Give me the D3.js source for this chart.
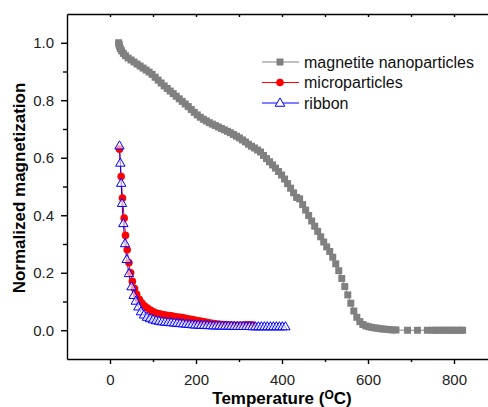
<!DOCTYPE html>
<html>
<head>
<meta charset="utf-8">
<script src="https://cdn.jsdelivr.net/npm/d3@7"></script>
<style>
  body { margin: 0; background: #fff; }
  svg { display: block; font-family: Arial, "Liberation Sans", sans-serif; }
</style>
</head>
<body>
<div id="chart"></div>
<script>
// magnetite nanoparticles (gray squares)
const nanoT = [20, 21, 22, 24, 27, 31, 36, 42, 49, 56, 63, 70, 77, 84, 91, 98, 105, 112, 119, 126,
  133, 140, 147, 154, 161, 168, 175, 182, 189, 196, 203, 210, 217, 224, 231, 238, 245, 252, 259, 266,
  273, 280, 287, 294, 301, 308, 315, 322, 329, 336, 343, 350, 357, 364, 371, 378, 385, 392, 399, 406,
  413, 420, 427, 434, 441, 448, 455, 462, 469, 476, 483, 490, 497, 504, 511, 518, 525, 532, 539, 546,
  553, 560, 567, 574, 581, 588, 595, 602, 609, 616, 623, 630, 637, 644, 651, 658, 665, 692, 715, 738,
  750, 758, 766, 774, 782, 790, 798, 806, 814, 820];
const nanoM = [1.000, 0.995, 0.988, 0.980, 0.972, 0.963, 0.955, 0.947, 0.940, 0.933, 0.926, 0.919, 0.912, 0.905, 0.898, 0.890, 0.880, 0.870, 0.860, 0.850,
  0.841, 0.832, 0.823, 0.814, 0.805, 0.796, 0.787, 0.778, 0.768, 0.758, 0.749, 0.741, 0.734, 0.728, 0.722, 0.717, 0.712, 0.707, 0.702, 0.697,
  0.692, 0.687, 0.681, 0.675, 0.669, 0.662, 0.655, 0.647, 0.640, 0.634, 0.627, 0.620, 0.608, 0.597, 0.586, 0.575, 0.564, 0.552, 0.540, 0.526,
  0.510, 0.494, 0.478, 0.462, 0.457, 0.437, 0.418, 0.399, 0.380, 0.362, 0.344, 0.325, 0.307, 0.290, 0.274, 0.254, 0.231, 0.207, 0.180, 0.152,
  0.123, 0.094, 0.067, 0.045, 0.030, 0.020, 0.015, 0.012, 0.010, 0.008, 0.007, 0.005, 0.004, 0.003, 0.002, 0.001, 0.001, 0.000, 0.000, 0.000,
  0.000, 0.000, 0.000, 0.000, 0.000, 0.000, 0.000, 0.000, 0.000, 0.000];

// microparticles (red circles)
const microT = [22, 26, 29, 33, 36, 40, 44, 48, 52, 57, 62, 68, 74, 80, 87, 94, 101, 108, 115, 122,
  129, 136, 143, 150, 157, 164, 171, 178, 185, 192, 199, 206, 213, 220, 227, 234, 241, 248, 255, 262,
  269, 276, 283, 290, 297, 304, 311, 318, 325, 332];
const microM = [0.630, 0.535, 0.460, 0.390, 0.330, 0.280, 0.235, 0.200, 0.170, 0.145, 0.125, 0.108, 0.095, 0.085, 0.077, 0.070, 0.064, 0.060, 0.057, 0.055,
  0.053, 0.051, 0.050, 0.048, 0.046, 0.045, 0.043, 0.041, 0.039, 0.037, 0.035, 0.033, 0.031, 0.029, 0.027, 0.025, 0.023, 0.022, 0.021, 0.020,
  0.019, 0.018, 0.018, 0.017, 0.017, 0.017, 0.018, 0.019, 0.019, 0.018];

// ribbon (blue open triangles)
const ribbonT = [22, 24, 26, 28, 31, 35, 39, 44, 50, 55, 60, 66, 72, 79, 86, 93, 100, 107, 114, 121,
  128, 135, 142, 149, 156, 163, 170, 177, 184, 191, 198, 205, 212, 219, 226, 233, 240, 247, 254, 261,
  268, 275, 282, 289, 296, 303, 310, 317, 324, 331, 338, 345, 352, 359, 366, 373, 380, 387, 394, 401, 408];
const ribbonM = [0.640, 0.580, 0.510, 0.440, 0.370, 0.300, 0.245, 0.196, 0.150, 0.120, 0.100, 0.080, 0.063, 0.052, 0.044, 0.039, 0.035, 0.032, 0.030, 0.028,
  0.027, 0.026, 0.025, 0.024, 0.023, 0.022, 0.021, 0.020, 0.019, 0.018, 0.017, 0.017, 0.016, 0.016, 0.015, 0.015, 0.014, 0.014, 0.014, 0.013,
  0.013, 0.013, 0.013, 0.012, 0.012, 0.012, 0.012, 0.012, 0.012, 0.011, 0.011, 0.011, 0.011, 0.011, 0.011, 0.011, 0.011, 0.011, 0.011, 0.011, 0.011];

const xMajor = [0, 200, 400, 600, 800];
const xMinor = [100, 300, 500, 700];
const yMajor = [0.0, 0.2, 0.4, 0.6, 0.8, 1.0];
const yMinor = [0.1, 0.3, 0.5, 0.7, 0.9];
const seriesNames = ["magnetite nanoparticles", "microparticles", "ribbon"];
const seriesColors = ["#808080", "#ff0000", "#0000ff"];

const width = 488, height = 407;
const svg = d3.select("#chart").append("svg")
  .attr("width", width)
  .attr("height", height);

const x = d3.scaleLinear().domain([-100, 900]).range([67, 497]);
const y = d3.scaleLinear().domain([-0.1, 1.1]).range([359, 14]);

function zip(ts, ms) { return ts.map((t, i) => ({t: t, m: ms[i]})); }
const series = [zip(nanoT, nanoM), zip(microT, microM), zip(ribbonT, ribbonM)];

/// Axes ///
const axisStyle = g => {
  g.selectAll("path, line").attr("stroke", "#000").attr("stroke-width", 1.4);
  g.selectAll("text").attr("fill", "#222").style("font-size", "15px");
};

svg.append("g")
  .attr("transform", "translate(0," + y(-0.1) + ")")
  .call(d3.axisBottom(x).tickValues(xMajor).tickSize(5).tickSizeOuter(0).tickPadding(10).tickFormat(d3.format("d")))
  .call(axisStyle);
svg.append("g")
  .attr("transform", "translate(0," + y(-0.1) + ")")
  .call(d3.axisBottom(x).tickValues(xMinor).tickSize(3).tickFormat(""))
  .call(g => g.select(".domain").remove())
  .call(axisStyle);

svg.append("g")
  .attr("transform", "translate(" + x(-100) + ",0)")
  .call(d3.axisLeft(y).tickValues(yMajor).tickSize(6).tickSizeOuter(0).tickPadding(7).tickFormat(d3.format(".1f")))
  .call(axisStyle);
svg.append("g")
  .attr("transform", "translate(" + x(-100) + ",0)")
  .call(d3.axisLeft(y).tickValues(yMinor).tickSize(4).tickFormat(""))
  .call(g => g.select(".domain").remove())
  .call(axisStyle);

// top frame with inward ticks
svg.append("g")
  .attr("transform", "translate(0," + y(1.1) + ")")
  .call(d3.axisBottom(x).tickValues(xMajor.concat(xMinor)).tickSize(3).tickSizeOuter(0).tickFormat(""))
  .call(axisStyle);

/// Lines and markers ///
const line = d3.line().x(d => x(d.t)).y(d => y(d.m));
series.forEach((data, i) => {
  svg.append("path")
    .datum(data)
    .attr("fill", "none")
    .attr("stroke", seriesColors[i])
    .attr("stroke-width", 1)
    .attr("d", line);
});

svg.append("g").selectAll("rect")
  .data(series[0]).enter().append("rect")
  .attr("x", d => x(d.t) - 3.5)
  .attr("y", d => y(d.m) - 3.5)
  .attr("width", 7)
  .attr("height", 7)
  .attr("fill", seriesColors[0]);

svg.append("g").selectAll("circle")
  .data(series[1]).enter().append("circle")
  .attr("cx", d => x(d.t))
  .attr("cy", d => y(d.m))
  .attr("r", 3.8)
  .attr("fill", seriesColors[1]);

const tri = d3.symbol().type(d3.symbolTriangle).size(38);
svg.append("g").selectAll("path")
  .data(series[2]).enter().append("path")
  .attr("d", tri)
  .attr("transform", d => "translate(" + x(d.t) + "," + y(d.m) + ")")
  .attr("fill", "#fff")
  .attr("fill-opacity", 0.6)
  .attr("stroke", seriesColors[2])
  .attr("stroke-width", 1);

/// Legend ///
const legend = svg.append("g");
seriesNames.forEach((name, i) => {
  const cy = 62 + i * 20.5;
  legend.append("line")
    .attr("x1", 262).attr("x2", 299).attr("y1", cy).attr("y2", cy)
    .attr("stroke", seriesColors[i]).attr("stroke-width", 1);
  if (i === 0) {
    legend.append("rect").attr("x", 276.5).attr("y", cy - 3.5).attr("width", 7).attr("height", 7).attr("fill", seriesColors[0]);
  } else if (i === 1) {
    legend.append("circle").attr("cx", 280).attr("cy", cy).attr("r", 3.8).attr("fill", seriesColors[1]);
  } else {
    legend.append("path").attr("d", d3.symbol().type(d3.symbolTriangle).size(40))
      .attr("transform", "translate(280," + (cy + 0.5) + ")")
      .attr("fill", "#fff").attr("stroke", seriesColors[2]).attr("stroke-width", 1);
  }
  legend.append("text")
    .attr("x", 304).attr("y", cy)
    .attr("dy", "0.35em")
    .style("font-size", "16px")
    .attr("fill", "#111")
    .text(name);
});

/// Titles ///
svg.append("text")
  .attr("transform", "translate(25,188) rotate(-90)")
  .attr("text-anchor", "middle")
  .style("font-size", "17px")
  .style("font-weight", "bold")
  .text("Normalized magnetization");

const xt = svg.append("text")
  .attr("x", 282)
  .attr("y", 404)
  .attr("text-anchor", "middle")
  .style("font-size", "17px")
  .style("font-weight", "bold");
xt.append("tspan").text("Temperature (");
xt.append("tspan").attr("dy", -5).style("font-size", "12px").text("O");
xt.append("tspan").attr("dy", 5).text("C)");
</script>
</body>
</html>
